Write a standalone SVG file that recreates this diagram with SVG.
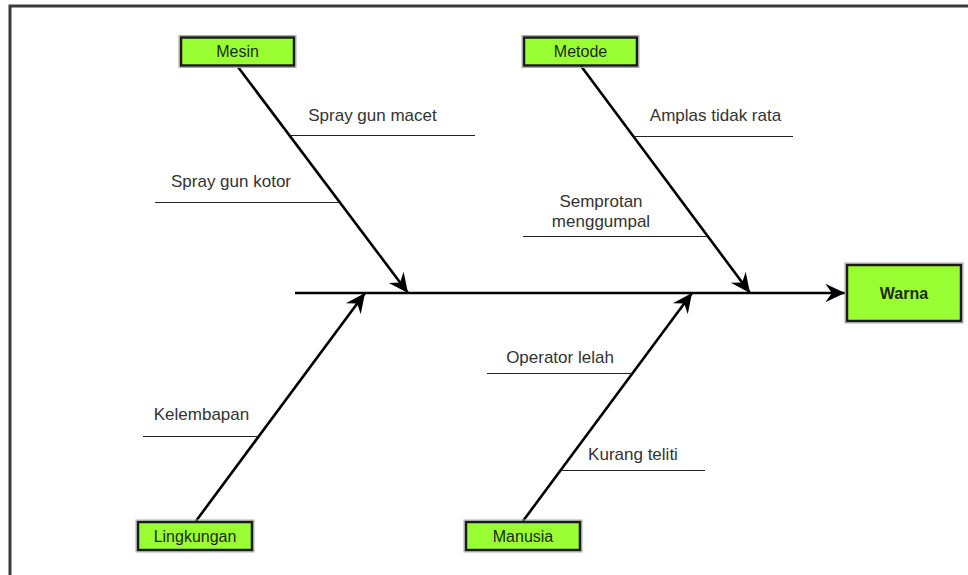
<svg xmlns="http://www.w3.org/2000/svg" width="968" height="575" viewBox="0 0 968 575">
<style>
.box{fill:#99ff33;stroke:#1a1a1a;stroke-width:2.5}
.boxo{fill:none;stroke:#aaaaaa;stroke-width:1}
.bt{font-family:"Liberation Sans",Arial,sans-serif;font-size:16px;fill:#1f2a10;text-anchor:middle}
.lbl{font-family:"Liberation Sans",Arial,sans-serif;font-size:17px;fill:#333333;text-anchor:middle}
.bone{stroke:#000;stroke-width:2.6;fill:none}
.sub{stroke:#222;stroke-width:1.2;fill:none}
</style>
<defs>
<marker id="arr" markerUnits="userSpaceOnUse" markerWidth="24" markerHeight="24" viewBox="-20 -10 22 20" refX="0" refY="0" orient="auto">
<path d="M0,0 L-18,-8.5 L-12,0 L-18,8.5 Z" fill="#000"/>
</marker>
</defs>
<rect x="0" y="0" width="968" height="575" fill="#ffffff"/>
<rect x="10" y="6" width="1000" height="600" fill="none" stroke="#3a3a3a" stroke-width="3"/>
<g id="connectors">
<line class="bone" x1="295" y1="293" x2="845" y2="293" marker-end="url(#arr)"/>
<line class="bone" x1="238" y1="67" x2="408" y2="293" marker-end="url(#arr)"/>
<line class="bone" x1="581" y1="66" x2="750" y2="293" marker-end="url(#arr)"/>
<line class="bone" x1="196" y1="521" x2="365" y2="293" marker-end="url(#arr)"/>
<line class="bone" x1="523" y1="521" x2="692" y2="293" marker-end="url(#arr)"/>
<line class="sub" x1="290" y1="135.5" x2="475" y2="135.5"/>
<line class="sub" x1="155" y1="202.5" x2="340" y2="202.5"/>
<line class="sub" x1="634" y1="136.5" x2="793" y2="136.5"/>
<line class="sub" x1="523" y1="236.5" x2="708" y2="236.5"/>
<line class="sub" x1="143" y1="436.5" x2="259" y2="436.5"/>
<line class="sub" x1="487" y1="373.5" x2="632" y2="373.5"/>
<line class="sub" x1="561" y1="470.5" x2="705" y2="470.5"/>
</g>
<g id="labels">
<text class="lbl" x="372.5" y="121">Spray gun macet</text>
<text class="lbl" x="231" y="187">Spray gun kotor</text>
<text class="lbl" x="715.5" y="121">Amplas tidak rata</text>
<text class="lbl" x="601" y="206.5">Semprotan</text>
<text class="lbl" x="601" y="227">menggumpal</text>
<text class="lbl" x="201.5" y="420">Kelembapan</text>
<text class="lbl" x="560" y="363">Operator lelah</text>
<text class="lbl" x="633" y="460">Kurang teliti</text>
</g>
<g id="mesin">
<rect class="boxo" x="179" y="35.5" width="117" height="32"/>
<rect class="box" x="181" y="37.5" width="113" height="28"/>
<text class="bt" x="237.5" y="57">Mesin</text>
</g>
<g id="metode">
<rect class="boxo" x="522" y="35.5" width="117" height="32"/>
<rect class="box" x="524" y="37.5" width="113" height="28"/>
<text class="bt" x="580.5" y="57">Metode</text>
</g>
<g id="lingkungan">
<rect class="boxo" x="136" y="520" width="118" height="32"/>
<rect class="box" x="138" y="522" width="114" height="28"/>
<text class="bt" x="195" y="541.5">Lingkungan</text>
</g>
<g id="manusia">
<rect class="boxo" x="464" y="520" width="118" height="32"/>
<rect class="box" x="466" y="522" width="114" height="28"/>
<text class="bt" x="523" y="541.5">Manusia</text>
</g>
<g id="warna">
<rect class="boxo" x="845" y="263" width="118" height="60"/>
<rect class="box" x="847" y="265" width="114" height="56"/>
<text class="bt" x="904" y="299" font-weight="bold">Warna</text>
</g>
</svg>
